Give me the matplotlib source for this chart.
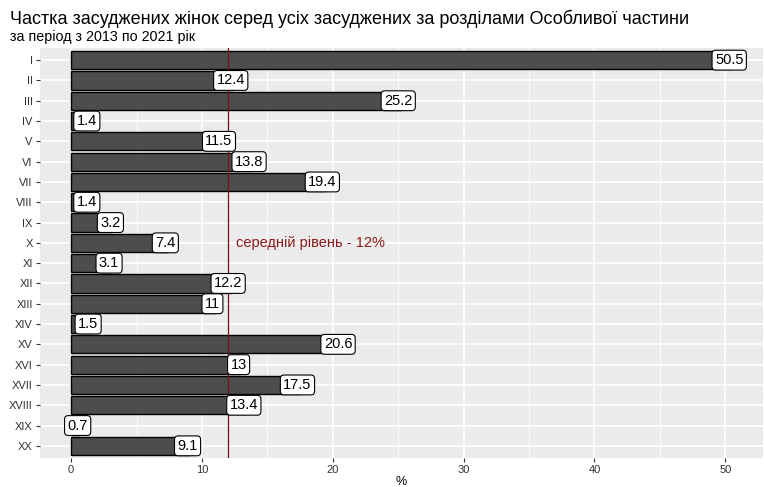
import matplotlib
matplotlib.use("Agg")
import matplotlib.pyplot as plt
import numpy as np

sections = ["I", "II", "III", "IV", "V", "VI", "VII", "VIII", "IX", "X",
            "XI", "XII", "XIII", "XIV", "XV", "XVI", "XVII", "XVIII", "XIX", "XX"]
values = [50.5, 12.4, 25.2, 1.4, 11.5, 13.8, 19.4, 1.4, 3.2, 7.4,
          3.1, 12.2, 11, 1.5, 20.6, 13, 17.5, 13.4, 0.7, 9.1]
value_labels = ["50.5", "12.4", "25.2", "1.4", "11.5", "13.8", "19.4", "1.4", "3.2", "7.4",
                "3.1", "12.2", "11", "1.5", "20.6", "13", "17.5", "13.4", "0.7", "9.1"]
mean_level = 12
mean_text = "середній рівень - 12%"
title = "Частка засуджених жінок серед усіх засуджених за розділами Особливої частини"
subtitle = "за період з 2013 по 2021 рік"
xticks = [0, 10, 20, 30, 40, 50]

plt.rcParams['font.family'] = ['Liberation Sans', 'DejaVu Sans']

fig = plt.figure(figsize=(7.64, 4.87), dpi=100)
ax = fig.add_axes([0.052, 0.0595, 0.947, 0.842])
ax.set_facecolor("#EBEBEB")

n = len(sections)
ypos = np.arange(n)[::-1] + 1  # I at top

ax.set_xlim(-2.4, 52.9)
ax.set_ylim(0.4, n + 0.6)

# grid
for x in np.arange(5, 55, 10):
    ax.axvline(x, color="white", lw=0.6, zorder=0)
for x in xticks:
    ax.axvline(x, color="white", lw=1.2, zorder=0)
for y in ypos:
    ax.axhline(y, color="white", lw=1.2, zorder=0)

ax.barh(ypos, values, height=0.9, color="#4D4D4D", edgecolor="black", lw=1.0, zorder=2)

ax.axvline(mean_level, color="#7A0F0F", lw=0.9, zorder=3)

for y, v, lab in zip(ypos, values, value_labels):
    ax.text(v - 0.2, y, lab, ha="center", va="center", fontsize=10.5, color="black", zorder=5,
            bbox=dict(boxstyle="round,pad=0.2,rounding_size=0.25", fc="white", ec="black", lw=0.8))

ax.text(18.3, ypos[sections.index("X")], mean_text, ha="center", va="center",
        fontsize=10.5, color="#8B1A1A", zorder=5)

for s in ax.spines.values():
    s.set_visible(False)

ax.set_yticks(ypos)
ax.set_yticklabels(sections, fontsize=8, color="#333333")
ax.set_xticks(xticks)
ax.set_xticklabels([str(t) for t in xticks], fontsize=8, color="#333333")
ax.tick_params(axis="both", length=3, width=0.8, color="#333333", pad=2)
ax.set_xlabel("%", fontsize=9, color="black", labelpad=1)

fig.text(0.013, 0.962, title, fontsize=13, color="black", ha="left", va="center")
fig.text(0.013, 0.925, subtitle, fontsize=10.3, color="black", ha="left", va="center")

fig.savefig("out.png", dpi=100)
